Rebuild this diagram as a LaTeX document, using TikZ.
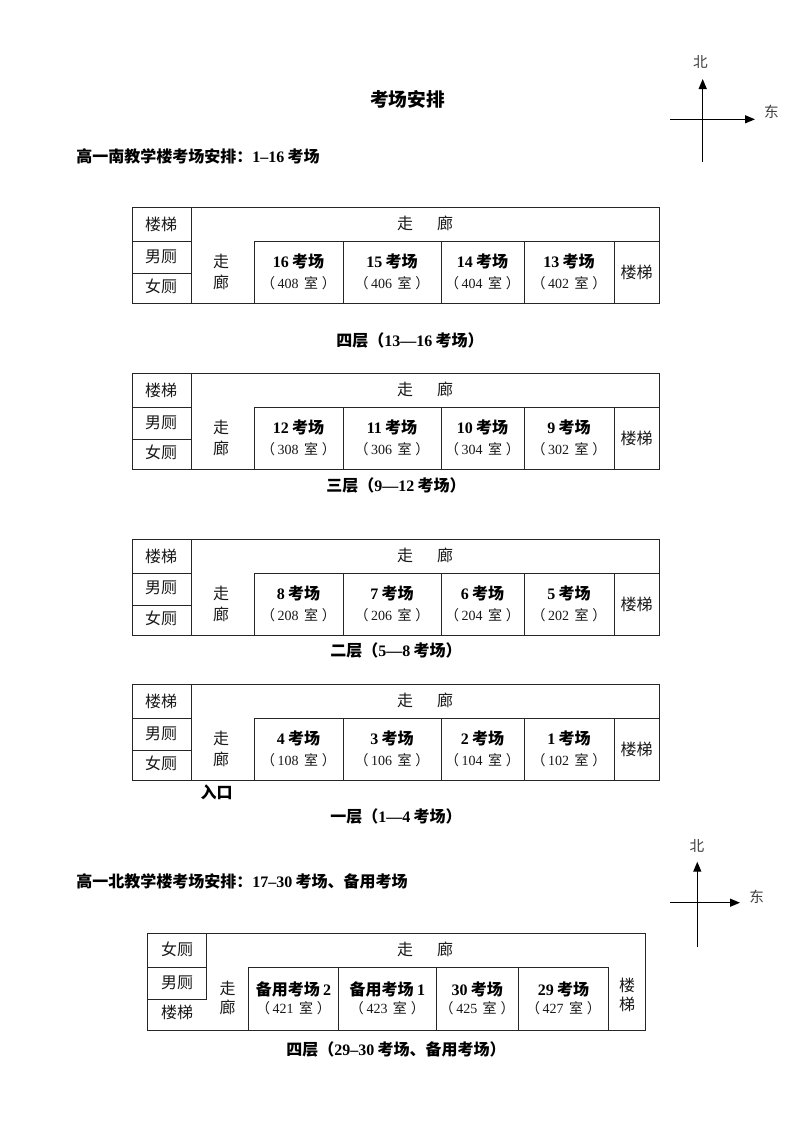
\documentclass[tikz,border=0pt]{standalone}
\usepackage{fontspec}
\setmainfont{Liberation Serif}
\newfontfamily\cjk{Noto Sans CJK SC}
\usetikzlibrary{arrows.meta}
\newcommand\kc{\hspace{2.5pt}{\cjk 考场}}
\newcommand\roomno[1]{{\cjk （}\hspace{2pt}#1\hspace{4pt}{\cjk 室}\hspace{3pt}{\cjk ）}}
\newcommand\exroom[6]{%
  \node[bold] (#1n) at (#2,#3) {#5};
  \node[num] (#1m) at (#2,#4) {\roomno{#6}};
}
\newcommand\southfloor[1]{%
  \draw[grid] (132.3,0) rectangle (659,96.4);
  \draw[grid] (191,0) -- (191,96.4);
  \draw[grid] (132.3,34.4) -- (191,34.4) (132.3,66.4) -- (191,66.4);
  \draw[grid] (254,34.4) -- (659,34.4);
  \foreach \xx in {254,343,441,524,614} \draw[grid] (\xx,34.4) -- (\xx,96.4);
  \node[txt] (#1st) at (161,18.5) {楼梯};
  \node[txt] (#1men) at (161,49.8) {男厕};
  \node[txt] (#1wom) at (161,80.5) {女厕};
  \node[txt] (#1cor) at (425,17.5) {走\hspace{18pt}廊};
  \node[txt] (#1cz) at (221,55.5) {走};
  \node[txt] (#1cl) at (221,76.5) {廊};
  \node[txt] (#1st2) at (636.5,66) {楼梯};
}
\tikzset{
  grid/.style={line width=0.75pt, draw=black!85},
  txt/.style={inner sep=0pt, font=\fontsize{12pt}{14pt}\selectfont\cjk, text height=0.88em, text depth=0.12em, text=black!90},
  bold/.style={inner sep=0pt, font=\fontsize{12pt}{14pt}\selectfont\bfseries, text height=0.88em, text depth=0.12em},
  num/.style={inner sep=0pt, font=\fontsize{10.5pt}{12pt}\selectfont, text height=0.88em, text depth=0.12em, text=black!90},
  titlestyle/.style={inner sep=0pt, font=\fontsize{14pt}{16pt}\selectfont\cjk\bfseries, text height=0.88em, text depth=0.12em},
  lbl/.style={inner sep=0pt, font=\fontsize{11pt}{13pt}\selectfont\cjk, text height=0.88em, text depth=0.12em, text=black!75},
  axis/.style={line width=1pt, black, -{Triangle[length=7.5pt,width=6pt]}},
}
\begin{document}
\begin{tikzpicture}[x=0.75pt,y=-0.75pt]
\fill[white] (0,0) rectangle (793,1122);
\useasboundingbox (0,0) rectangle (793,1122);

% title and subtitle
\node[titlestyle] (title) at (407.5,101.7) {考场安排};
\node[bold, anchor=west] (sub1) at (76,157) {{\cjk 高一南教学楼考场安排：}1–16\kc};

% compass 1
\coordinate (c1n) at (702.7,79);
\coordinate (c1s) at (702.7,161.7);
\coordinate (c1w) at (670,119.3);
\coordinate (c1e) at (755,119.3);
\draw[axis] (c1s) -- (c1n);
\draw[axis] (c1w) -- (c1e);
\node[lbl] (c1N) at (700.5,62.5) {北};
\node[lbl] (c1E) at (771.5,112) {东};

% fourth floor
\begin{scope}[shift={(0,207.3)}]
  \southfloor{fa}
  \exroom{fa1}{298.5}{55.5}{76}{16\kc}{408}
  \exroom{fa2}{392}{55.5}{76}{15\kc}{406}
  \exroom{fa3}{482.5}{55.5}{76}{14\kc}{404}
  \exroom{fa4}{569}{55.5}{76}{13\kc}{402}
\end{scope}
\node[bold] (capa) at (410,341.7) {{\cjk 四层（}13—16\kc{\cjk ）}};

% third floor
\begin{scope}[shift={(0,373.3)}]
  \southfloor{fb}
  \exroom{fb1}{298.5}{55.5}{76}{12\kc}{308}
  \exroom{fb2}{392}{55.5}{76}{11\kc}{306}
  \exroom{fb3}{482.5}{55.5}{76}{10\kc}{304}
  \exroom{fb4}{569}{55.5}{76}{9\kc}{302}
\end{scope}
\node[bold] (capb) at (396,486.7) {{\cjk 三层（}9—12\kc{\cjk ）}};

% second floor
\begin{scope}[shift={(0,539)}]
  \southfloor{fc}
  \exroom{fc1}{298.5}{55.5}{76}{8\kc}{208}
  \exroom{fc2}{392}{55.5}{76}{7\kc}{206}
  \exroom{fc3}{482.5}{55.5}{76}{6\kc}{204}
  \exroom{fc4}{569}{55.5}{76}{5\kc}{202}
\end{scope}
\node[bold] (capc) at (396,651.7) {{\cjk 二层（}5—8\kc{\cjk ）}};

% first floor
\begin{scope}[shift={(0,684.3)}]
  \southfloor{fd}
  \exroom{fd1}{298.5}{55.5}{76}{4\kc}{108}
  \exroom{fd2}{392}{55.5}{76}{3\kc}{106}
  \exroom{fd3}{482.5}{55.5}{76}{2\kc}{104}
  \exroom{fd4}{569}{55.5}{76}{1\kc}{102}
\end{scope}
\node[bold] (entry) at (216.5,793.3) {{\cjk 入口}};
\node[bold] (capd) at (396,817) {{\cjk 一层（}1—4\kc{\cjk ）}};

% north building
\node[bold, anchor=west] (sub2) at (76,882) {{\cjk 高一北教学楼考场安排：}17–30\kc{\cjk 、备用考场}};

% compass 2
\coordinate (c2n) at (697.3,861.7);
\coordinate (c2s) at (697.3,946.7);
\coordinate (c2w) at (670,902.7);
\coordinate (c2e) at (740,902.7);
\draw[axis] (c2s) -- (c2n);
\draw[axis] (c2w) -- (c2e);
\node[lbl] (c2N) at (697,846.5) {北};
\node[lbl] (c2E) at (756.7,897) {东};

\begin{scope}[shift={(0,933.3)}]
  \draw[grid] (147.3,0) rectangle (645.7,96.7);
  \draw[grid] (206.7,0) -- (206.7,65.7);
  \draw[grid] (147.3,34) -- (206.7,34) (147.3,65.7) -- (206.7,65.7);
  \draw[grid] (248.3,34) -- (608.7,34);
  \foreach \xx in {248.3,338.7,436,518.3,608.7} \draw[grid] (\xx,34) -- (\xx,96.7);
  \node[txt] (nwom) at (177,17) {女厕};
  \node[txt] (nmen) at (177,50) {男厕};
  \node[txt] (nst) at (177,80.5) {楼梯};
  \node[txt] (ncor) at (425,17) {走\hspace{18pt}廊};
  \node[txt] (ncz) at (227.5,56.5) {走};
  \node[txt] (ncl) at (227.5,75) {廊};
  \node[txt] (nst2a) at (627,53) {楼};
  \node[txt] (nst2b) at (627,72) {梯};
  \exroom{ne1}{293.5}{57.5}{75.5}{{\cjk 备用考场}\hspace{2.5pt}2}{421}
  \exroom{ne2}{387.4}{57.5}{75.5}{{\cjk 备用考场}\hspace{2.5pt}1}{423}
  \exroom{ne3}{477.2}{57.5}{75.5}{30\kc}{425}
  \exroom{ne4}{563.5}{57.5}{75.5}{29\kc}{427}
\end{scope}
\node[bold] (cape) at (396,1050) {{\cjk 四层（}29–30\kc{\cjk 、备用考场）}};
\end{tikzpicture}
\end{document}
